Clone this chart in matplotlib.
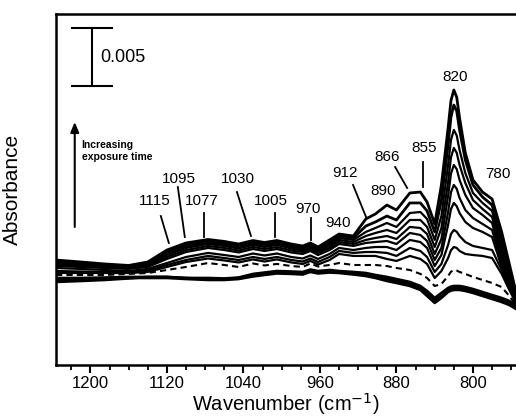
import matplotlib
matplotlib.use("Agg")
import matplotlib.pyplot as plt
import numpy as np
from matplotlib.ticker import MultipleLocator

plt.rcParams['font.family'] = ['Liberation Sans', 'DejaVu Sans']

# wavenumber grid (cm-1)
wavenumber = [1236, 1210, 1185, 1160, 1140, 1120, 1100, 1077, 1060, 1045, 1030, 1018,
              1005, 990, 978, 970, 962, 950, 940, 925, 912, 902, 890, 880, 866, 855,
              848, 840, 833, 826, 823, 820, 817, 814, 808, 800, 790, 780, 770, 762, 755]

# absorbance in mAU, longest exposure first
spec_1 = [0.86, 0.69, 0.52, 0.39, 0.69, 1.72, 2.33, 2.63, 2.46, 2.24, 2.54, 2.37, 2.54,
          2.24, 2.07, 2.33, 1.98, 2.59, 3.10, 2.93, 4.40, 4.83, 5.60, 5.17, 6.64, 6.72,
          5.86, 3.97, 7.33, 12.24, 14.6, 15.52, 14.9, 13.10, 10.09, 7.76, 6.72, 6.12, 3.28, 0.52, -1.90]
spec_2 = [0.78, 0.60, 0.43, 0.34, 0.60, 1.55, 2.16, 2.50, 2.33, 2.11, 2.41, 2.24, 2.41,
          2.11, 1.94, 2.20, 1.85, 2.41, 2.93, 2.76, 3.79, 4.14, 4.65, 4.31, 5.78, 5.78,
          5.09, 3.28, 6.03, 10.78, 13.2, 14.22, 13.7, 12.07, 9.48, 7.33, 6.29, 5.60, 2.59, 0.09, -2.07]
spec_3 = [0.69, 0.52, 0.39, 0.30, 0.52, 1.47, 2.03, 2.37, 2.20, 1.98, 2.28, 2.11, 2.28,
          1.98, 1.81, 2.07, 1.72, 2.24, 2.76, 2.59, 3.28, 3.62, 4.05, 3.71, 4.91, 5.00,
          4.40, 2.59, 4.65, 9.05, 11.2, 12.07, 11.6, 10.34, 8.36, 6.64, 5.78, 5.09, 1.98, -0.26, -2.24]
spec_4 = [0.60, 0.43, 0.34, 0.26, 0.43, 1.29, 1.90, 2.24, 2.07, 1.85, 2.16, 1.98, 2.16,
          1.85, 1.68, 1.94, 1.59, 2.07, 2.59, 2.41, 2.93, 3.19, 3.45, 3.19, 4.31, 4.31,
          3.71, 1.98, 3.62, 7.59, 9.7, 10.52, 10.1, 9.05, 7.50, 6.03, 5.26, 4.57, 1.47, -0.60, -2.41]
spec_5 = [0.47, 0.34, 0.26, 0.17, 0.34, 1.12, 1.72, 2.07, 1.90, 1.68, 1.98, 1.81, 1.98,
          1.68, 1.55, 1.81, 1.47, 1.90, 2.41, 2.24, 2.59, 2.76, 2.93, 2.67, 3.71, 3.62,
          3.10, 1.38, 2.67, 6.38, 8.3, 9.05, 8.7, 7.76, 6.47, 5.34, 4.74, 4.05, 1.03, -0.86, -2.50]
spec_6 = [0.34, 0.26, 0.17, 0.09, 0.26, 0.95, 1.55, 1.90, 1.72, 1.51, 1.81, 1.64, 1.81,
          1.51, 1.38, 1.64, 1.29, 1.72, 2.24, 2.07, 2.33, 2.41, 2.50, 2.24, 3.19, 3.02,
          2.50, 0.86, 1.90, 5.00, 6.7, 7.33, 7.0, 6.21, 5.17, 4.48, 3.97, 3.45, 0.60, -1.12, -2.59]
spec_7 = [0.17, 0.09, 0.00, -0.09, 0.09, 0.60, 1.12, 1.47, 1.29, 1.12, 1.42, 1.25, 1.42,
          1.12, 0.99, 1.25, 0.95, 1.38, 1.90, 1.72, 1.90, 1.98, 1.98, 1.72, 2.59, 2.41,
          1.90, 0.34, 1.29, 3.88, 5.25, 5.78, 5.5, 4.91, 4.14, 3.62, 3.28, 2.84, 0.26, -1.38, -2.67]
spec_8 = [-0.09, -0.13, -0.17, -0.17, -0.04, 0.43, 0.86, 1.21, 1.03, 0.86, 1.12, 0.95, 1.12,
          0.86, 0.73, 0.99, 0.69, 1.12, 1.64, 1.47, 1.55, 1.55, 1.47, 1.21, 1.90, 1.64,
          1.12, -0.17, 0.52, 2.16, 3.1, 3.45, 3.3, 2.93, 2.41, 2.07, 1.90, 1.72, 0.00, -1.55, -2.76]
spec_9 = [-0.26, -0.26, -0.26, -0.26, -0.17, 0.26, 0.69, 0.99, 0.82, 0.65, 0.91, 0.73, 0.91,
          0.65, 0.52, 0.78, 0.47, 0.86, 1.38, 1.21, 1.21, 1.21, 0.95, 0.78, 1.21, 0.95,
          0.52, -0.69, -0.09, 1.03, 1.7, 1.98, 1.9, 1.64, 1.38, 1.29, 1.21, 1.03, -0.34, -1.72, -2.84]
spec_dash = [-0.43, -0.43, -0.43, -0.34, -0.26, 0.00, 0.26, 0.60, 0.43, 0.26, 0.56, 0.39, 0.52,
             0.34, 0.26, 0.56, 0.30, 0.43, 0.60, 0.43, 0.43, 0.43, 0.34, 0.17, 0.00, -0.34,
             -0.69, -1.38, -1.21, -0.52, -0.15, 0.00, -0.05, -0.17, -0.34, -0.60, -0.86, -1.12, -1.47, -2.24, -3.02]
base_1 = [-0.69, -0.69, -0.65, -0.60, -0.60, -0.60, -0.69, -0.78, -0.78, -0.69, -0.43, -0.30, -0.17,
          -0.22, -0.26, -0.04, -0.17, -0.09, -0.17, -0.26, -0.34, -0.52, -0.78, -0.95, -1.21, -1.55,
          -1.98, -2.59, -2.24, -1.72, -1.6, -1.55, -1.55, -1.55, -1.64, -1.81, -2.07, -2.33, -2.59, -2.84, -3.19]
base_2 = [-0.86, -0.82, -0.78, -0.69, -0.69, -0.69, -0.78, -0.86, -0.86, -0.78, -0.56, -0.43, -0.30,
          -0.34, -0.39, -0.17, -0.30, -0.22, -0.26, -0.39, -0.52, -0.69, -0.95, -1.12, -1.38, -1.72,
          -2.24, -2.84, -2.41, -1.90, -1.78, -1.72, -1.72, -1.72, -1.81, -1.98, -2.24, -2.50, -2.76, -3.02, -3.36]
base_3 = [-1.03, -0.95, -0.86, -0.73, -0.60, -0.60, -0.69, -0.69, -0.73, -0.65, -0.34, -0.22, -0.09,
          -0.13, -0.17, 0.04, -0.09, 0.00, -0.09, -0.17, -0.26, -0.43, -0.60, -0.78, -1.03, -1.38,
          -1.81, -2.41, -1.98, -1.55, -1.43, -1.38, -1.38, -1.38, -1.47, -1.64, -1.90, -2.16, -2.41, -2.67, -3.02]

solid_spectra = [spec_1, spec_2, spec_3, spec_4, spec_5, spec_6, spec_7, spec_8, spec_9]
base_spectra = [base_1, base_2, base_3]

# peak labels: text, text position (cm-1, mAU), optional leader line
peak_labels = [
    ('1115', (1132.7, 5.95), ((1126.4, 4.65), (1118.0, 2.33))),
    ('1095', (1107.5, 7.84), ((1108.6, 7.15), (1101.3, 2.84))),
    ('1077', (1083.5, 5.95), ((1081.4, 4.91), (1081.4, 2.84))),
    ('1030', (1045.8, 7.84), ((1046.8, 6.72), (1032.1, 2.93))),
    ('1005', (1011.2, 5.95), ((1007.0, 4.91), (1007.0, 2.84))),
    ('970', (972.5, 5.26), ((969.6, 4.48), (969.6, 2.59))),
    ('940', (941.0, 4.05), None),
    ('912', (933.7, 8.36), ((925.4, 7.33), (911.8, 4.57))),
    ('890', (893.9, 6.81), None),
    ('866', (889.7, 9.74), ((881.4, 8.88), (868.8, 7.07))),
    ('855', (851.0, 10.52), ((852.0, 9.31), (852.0, 7.15))),
    ('820', (818.5, 16.64), None),
    ('780', (773.5, 8.28), None),
]

wn = np.array(wavenumber)
fig = plt.figure(figsize=(5.16, 4.2), dpi=100)
ax = fig.add_axes([0.1085, 0.131, 0.8915, 0.8357])

for i, s in enumerate(solid_spectra):
    ax.plot(wn, np.array(s) * 1e-3, color='black', lw=2.0 if i < 2 else 1.6,
            solid_capstyle='round', solid_joinstyle='round')
ax.plot(wn, np.array(spec_dash) * 1e-3, color='black', lw=1.5, ls=(0, (3, 2)))
for s in base_spectra:
    ax.plot(wn, np.array(s) * 1e-3, color='black', lw=1.9, solid_joinstyle='round')

for text, (tx, ty), line in peak_labels:
    ax.text(tx, ty * 1e-3, text, fontsize=11, ha='center', va='center')
    if line is not None:
        (x0, y0), (x1, y1) = line
        ax.plot([x0, x1], [y0 * 1e-3, y1 * 1e-3], color='black', lw=1.3)

# scale bar 0.005
bar_x, bar_lo = 1198.3, 15.86e-3
ax.plot([bar_x, bar_x], [bar_lo, bar_lo + 0.005], color='black', lw=1.5)
ax.plot([1219.6, 1177.7], [bar_lo, bar_lo], color='black', lw=1.5)
ax.plot([1219.6, 1177.7], [bar_lo + 0.005, bar_lo + 0.005], color='black', lw=1.5)
ax.text(1189.2, bar_lo + 0.0025, '0.005', fontsize=13, ha='left', va='center')

# exposure-time arrow
ax.annotate('', xy=(1216.4, 12.76e-3), xytext=(1216.4, 3.71e-3),
            arrowprops=dict(arrowstyle='-|>,head_width=0.25,head_length=0.6',
                            color='black', lw=1.5, shrinkA=0, shrinkB=0))
ax.text(1209.1, 10.26e-3, 'Increasing\nexposure time', fontsize=7.5,
        fontweight='bold', ha='left', va='center', linespacing=1.3)

ax.set_xlim(1236, 755)
ax.set_ylim(-8.19e-3, 22.07e-3)
ax.xaxis.set_major_locator(MultipleLocator(80))
ax.xaxis.set_minor_locator(MultipleLocator(20))
ax.tick_params(axis='x', which='major', direction='out', length=6, width=1.5,
               labelsize=12, pad=2)
ax.tick_params(axis='x', which='minor', direction='out', length=3.5, width=1.3)
ax.set_yticks([])
for side in ['left', 'top', 'bottom']:
    ax.spines[side].set_linewidth(1.8)
ax.spines['right'].set_visible(False)

ax.set_xlabel('Wavenumber (cm$^{-1}$)', fontsize=14.5, labelpad=0)
ax.set_ylabel('Absorbance', fontsize=15)
ax.yaxis.set_label_coords(-0.074, 0.5)

fig.savefig('out.png', dpi=100)
